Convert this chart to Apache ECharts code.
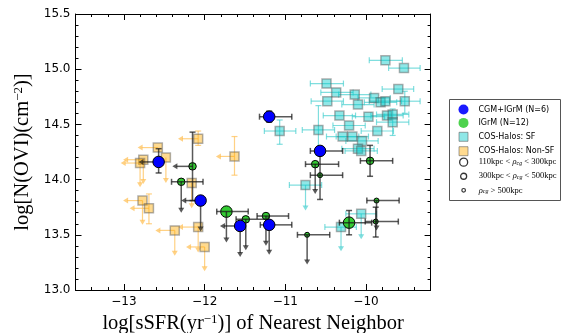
<!DOCTYPE html>
<html><head><meta charset="utf-8">
<script src="https://cdn.jsdelivr.net/npm/echarts@6/dist/echarts.min.js"></script>
<style>html,body{margin:0;padding:0;background:#fff}#c{width:564px;height:333px}</style>
</head><body><div id="c"></div>
<script>
// Row columns: x, y, xLow, xHigh, yLow, yHigh, xUpperLimit (1 = arrow to xLow), yUpperLimit (1 = arrow to yLow)
const cgmIgrm = [
  [-11.20, 14.57, -11.32, -10.92, 14.52, 14.62, 0, 0],
  [-12.57, 14.16, -12.82, null, 14.06, 14.28, 1, 0],
  [-12.05, 13.81, -12.29, null, 13.53, null, 1, 1],
  [-11.56, 13.58, -11.81, null, 13.30, null, 1, 1],
  [-11.20, 13.59, -11.31, -10.92, 13.32, null, 0, 1],
  [-10.57, 14.26, -10.69, -10.29, 14.22, 14.30, 0, 0]
];
const cgmIgrmRho = [1, 1, 1, 1, 1, 1];

const igrm = [
  [-12.15, 14.12, -12.40, null, 13.81, 14.43, 1, 0],
  [-12.29, 13.98, -12.41, -12.02, 13.70, null, 0, 1],
  [-11.73, 13.71, -11.85, -11.46, 13.43, null, 0, 1],
  [-11.49, 13.64, -11.61, -11.21, 13.36, null, 0, 1],
  [-11.24, 13.67, -11.35, -10.96, 13.40, null, 0, 1],
  [-10.63, 14.14, -10.75, -10.34, 13.87, null, 0, 1],
  [-10.57, 14.04, -10.69, -10.29, 13.82, 14.26, 0, 0],
  [-9.95, 14.17, -10.07, -9.67, 14.03, 14.31, 0, 0],
  [-9.87, 13.81, -9.99, -9.59, 13.54, null, 0, 1],
  [-10.21, 13.61, -10.33, -9.93, 13.50, 13.72, 0, 0],
  [-9.88, 13.62, -10.01, -9.60, 13.48, 13.75, 0, 0],
  [-10.73, 13.50, -10.85, -10.45, 13.23, null, 0, 1]
];
const igrmRho = [2, 2, 1, 2, 2, 2, 3, 2, 3, 1, 3, 3];

const cosSF = [
  [-9.76, 15.08, -9.96, -9.55, null, null, 0, 0],
  [-9.53, 15.01, -9.72, -9.33, null, null, 0, 0],
  [-10.49, 14.87, -10.69, -10.28, null, null, 0, 0],
  [-9.60, 14.82, -9.80, -9.41, null, null, 0, 0],
  [-10.37, 14.79, -10.56, -10.16, null, null, 0, 0],
  [-10.14, 14.77, -10.34, -9.94, null, null, 0, 0],
  [-10.48, 14.71, -10.68, -10.28, null, null, 0, 0],
  [-10.10, 14.68, -10.30, -9.90, null, null, 0, 0],
  [-9.90, 14.74, -10.10, -9.70, null, null, 0, 0],
  [-9.82, 14.70, -10.02, -9.62, null, null, 0, 0],
  [-9.76, 14.71, -9.96, -9.56, null, null, 0, 0],
  [-9.52, 14.71, -9.71, -9.33, 14.60, 14.80, 0, 0],
  [-10.33, 14.58, -10.53, -10.13, null, null, 0, 0],
  [-9.97, 14.57, -10.17, -9.77, null, null, 0, 0],
  [-9.74, 14.58, -9.94, -9.54, null, null, 0, 0],
  [-9.67, 14.59, -9.87, -9.47, null, null, 0, 0],
  [-9.67, 14.52, -9.87, -9.47, 14.40, 14.64, 0, 0],
  [-10.21, 14.49, -10.41, -10.01, null, null, 0, 0],
  [-9.86, 14.44, -10.06, -9.66, null, null, 0, 0],
  [-10.59, 14.45, -10.79, -10.39, 14.22, 14.67, 0, 0],
  [-11.07, 14.44, -11.26, -10.87, 14.32, 14.54, 0, 0],
  [-10.29, 14.39, -10.49, -10.09, null, null, 0, 0],
  [-10.17, 14.39, -10.37, -9.97, null, null, 0, 0],
  [-10.05, 14.35, -10.25, -9.85, null, null, 0, 0],
  [-10.10, 14.28, -10.30, -9.90, null, null, 0, 0],
  [-10.06, 14.26, -10.26, -9.86, null, null, 0, 0],
  [-10.75, 13.95, -10.95, -10.55, 13.72, null, 0, 1],
  [-10.06, 13.69, -10.25, -9.87, 13.46, null, 0, 1],
  [-10.31, 13.57, -10.51, -10.12, 13.35, null, 0, 1]
];

const cosNonSF = [
  [-12.08, 14.37, -12.33, null, 14.31, 14.44, 1, 0],
  [-11.63, 14.21, -11.86, null, 14.04, 14.39, 1, 0],
  [-12.58, 14.29, -12.83, null, null, null, 1, 0],
  [-12.48, 14.20, null, null, 13.97, null, 0, 1],
  [-12.76, 14.18, -13.01, null, 13.96, null, 1, 1],
  [-12.80, 14.15, -13.04, null, 13.93, null, 1, 1],
  [-12.16, 13.97, null, null, 13.74, null, 0, 1],
  [-12.77, 13.81, -13.01, null, 13.59, null, 1, 1],
  [-12.69, 13.74, -12.93, null, 13.60, 13.87, 1, 0],
  [-12.37, 13.54, -12.61, null, 13.31, null, 1, 1],
  [-12.08, 13.57, -12.33, null, 13.34, null, 1, 1],
  [-12.00, 13.39, -12.23, null, 13.17, null, 1, 1]
];

const seriesNames = ['CGM+IGrM (N=6)', 'IGrM (N=12)', 'COS-Halos: SF', 'COS-Halos: Non-SF'];
const rhoNames = ['rho1', 'rho2', 'rho3'];
const rhoRanges = [['110kpc < ', ' < 300kpc'], ['300kpc < ', ' < 500kpc'], ['', ' > 500kpc']];
const xRange = [-13.6, -9.2];
const yRange = [13.0, 15.5];
const yTickStep = 0.5;
const xMinorStep = 0.2;

const rhoSize = {1: 11.5, 2: 7.5, 3: 5};

function errSeries(name, rows, color, lw, z) {
  return {
    type: 'custom', name: name, z: z, silent: true, animation: false,
    xAxisIndex: 0, yAxisIndex: 0,
    dimensions: ['x', 'y', 'xl', 'xh', 'yl', 'yh', 'xa', 'ya'],
    encode: {x: 0, y: 1},
    data: rows,
    renderItem: function (params, api) {
      const x = api.value(0), y = api.value(1);
      const xl = api.value(2), xh = api.value(3), yl = api.value(4), yh = api.value(5);
      const xa = api.value(6), ya = api.value(7);
      const c = api.coord([x, y]);
      const ch = [];
      const st = {stroke: color, lineWidth: lw};
      const cap = 3, ah = 5, aw = 3;
      const L = (x1, y1, x2, y2) => ch.push({type: 'line', shape: {x1, y1, x2, y2}, style: st});
      if (isFinite(xl) && xl !== null) {
        const a = api.coord([xl, y]);
        if (xa === 1) {
          L(c[0], c[1], a[0] + ah - 1, c[1]);
          ch.push({type: 'polygon', shape: {points: [[a[0], c[1]], [a[0] + ah, c[1] - aw], [a[0] + ah, c[1] + aw]]}, style: {fill: color}});
        } else {
          const b = api.coord([xh, y]);
          L(a[0], c[1], b[0], c[1]);
          L(a[0], c[1] - cap, a[0], c[1] + cap);
          L(b[0], c[1] - cap, b[0], c[1] + cap);
        }
      }
      if (isFinite(yl) && yl !== null) {
        const a = api.coord([x, yl]);
        if (ya === 1) {
          L(c[0], c[1], c[0], a[1] - ah + 1);
          ch.push({type: 'polygon', shape: {points: [[c[0], a[1]], [c[0] - aw, a[1] - ah], [c[0] + aw, a[1] - ah]]}, style: {fill: color}});
        } else {
          const b = api.coord([x, yh]);
          L(c[0], a[1], c[0], b[1]);
          L(c[0] - cap, a[1], c[0] + cap, a[1]);
          L(c[0] - cap, b[1], c[0] + cap, b[1]);
        }
      }
      return {type: 'group', children: ch};
    }
  };
}

function markers(name, rows, opts) {
  return Object.assign({
    type: 'scatter', name: name, silent: true, animation: false,
    xAxisIndex: 0, yAxisIndex: 0,
    data: rows.map(r => [r[0], r[1]])
  }, opts);
}

const isInt = v => Math.abs(v - Math.round(v)) < 1e-9;
const serif = 'Liberation Serif';
const sans = 'DejaVu Sans';

const darkBar = 'rgba(25,25,25,0.72)';
const cyanBar = 'rgba(60,205,205,0.65)';
const orangeBar = 'rgba(255,190,80,0.7)';

const tickAxisCommon = {
  type: 'value', axisLine: {show: true, onZero: false, lineStyle: {color: '#000', width: 1}},
  splitLine: {show: false}
};

const legendCommon = {
  orient: 'vertical', left: 449,
  itemWidth: 20, itemHeight: 11, itemGap: 2.4,
  selectedMode: false, backgroundColor: 'transparent', borderWidth: 0
};

const option = {
  animation: false,
  backgroundColor: '#fff',
  grid: {left: 75.5, right: 133.4, top: 14, bottom: 43, containLabel: false, outerBoundsMode: 'none'},
  graphic: [{
    type: 'rect', left: 449, top: 99, z: 0,
    shape: {width: 111, height: 101},
    style: {fill: '#fff', stroke: '#555', lineWidth: 1}
  }],
  xAxis: [
    Object.assign({}, tickAxisCommon, {
      position: 'bottom', min: xRange[0], max: xRange[1],
      axisTick: {inside: true, length: 6, lineStyle: {color: '#000'}},
      axisLabel: {show: true, showMinLabel: false, showMaxLabel: false, margin: 6,
        fontFamily: sans, fontSize: 12, color: '#000',
        formatter: v => isInt(v) ? (v < 0 ? '\u2212' + Math.abs(Math.round(v)) : String(Math.round(v))) : ''},
      name: '{a|log[sSFR(yr}{p|\u22121}{a|)] of Nearest Neighbor}',
      nameLocation: 'middle', nameGap: 19,
      nameTextStyle: {rich: {
        a: {fontFamily: serif, fontSize: 20.5, color: '#000'},
        p: {fontFamily: serif, fontSize: 13, color: '#000', verticalAlign: 'top'}
      }}
    }),
    Object.assign({}, tickAxisCommon, {
      position: 'bottom', min: xRange[0], max: xRange[1], interval: xMinorStep,
      axisLine: {show: false},
      axisTick: {inside: true, length: 3, lineStyle: {color: '#000'}},
      axisLabel: {show: false}
    }),
    Object.assign({}, tickAxisCommon, {
      position: 'top', min: xRange[0], max: xRange[1],
      axisTick: {inside: true, length: 6, lineStyle: {color: '#000'}},
      axisLabel: {show: false}
    }),
    Object.assign({}, tickAxisCommon, {
      position: 'top', min: xRange[0], max: xRange[1], interval: xMinorStep,
      axisLine: {show: false},
      axisTick: {inside: true, length: 3, lineStyle: {color: '#000'}},
      axisLabel: {show: false}
    })
  ],
  yAxis: [
    Object.assign({}, tickAxisCommon, {
      position: 'left', min: yRange[0], max: yRange[1], interval: yTickStep,
      axisTick: {inside: true, length: 6, lineStyle: {color: '#000'}},
      minorTick: {show: true, splitNumber: 5, length: 3, lineStyle: {color: '#000'}},
      axisLabel: {show: true, margin: 5, fontFamily: sans, fontSize: 12, color: '#000',
        formatter: v => v.toFixed(1)},
      name: '{a|log[N(OVI)(cm}{p|\u22122}{a|)]}',
      nameLocation: 'middle', nameGap: 40, nameRotate: 90,
      nameTextStyle: {rich: {
        a: {fontFamily: serif, fontSize: 20.5, color: '#000'},
        p: {fontFamily: serif, fontSize: 13, color: '#000', verticalAlign: 'top'}
      }}
    }),
    Object.assign({}, tickAxisCommon, {
      position: 'right', min: yRange[0], max: yRange[1], interval: yTickStep,
      axisTick: {inside: true, length: 6, lineStyle: {color: '#000'}},
      minorTick: {show: true, splitNumber: 5, length: 3, lineStyle: {color: '#000'}},
      axisLabel: {show: false}
    })
  ],
  legend: [
    Object.assign({}, legendCommon, {
      top: 99, padding: [5, 2, 0, 4],
      textStyle: {fontFamily: sans, fontSize: 8, color: '#000'},
      data: [
        {name: seriesNames[0], icon: 'path://M0,0 M20,11 M15,5.5 A5,5 0 1 1 5,5.5 A5,5 0 1 1 15,5.5 Z', itemStyle: {color: '#1a1aff', borderWidth: 0}},
        {name: seriesNames[1], icon: 'path://M0,0 M20,11 M15,5.5 A5,5 0 1 1 5,5.5 A5,5 0 1 1 15,5.5 Z', itemStyle: {color: '#4dd24d', borderWidth: 0}},
        {name: seriesNames[2], icon: 'path://M0,0 M20,11 M5.5,1 L14.5,1 L14.5,10 L5.5,10 Z', itemStyle: {color: 'rgba(0,200,200,0.55)', borderColor: 'rgba(90,90,90,0.7)', borderWidth: 1}},
        {name: seriesNames[3], icon: 'path://M0,0 M20,11 M5.5,1 L14.5,1 L14.5,10 L5.5,10 Z', itemStyle: {color: 'rgba(255,170,0,0.55)', borderColor: 'rgba(90,90,90,0.7)', borderWidth: 1}}
      ]
    }),
    Object.assign({}, legendCommon, {
      top: 156, padding: [0, 2, 0, 4], itemGap: 1.8,
      textStyle: {fontFamily: serif, fontSize: 8.5, color: '#000',
        rich: {
          m: {fontFamily: serif, fontSize: 8.5, color: '#000'},
          r: {fontFamily: serif, fontSize: 8.5, fontStyle: 'italic', color: '#000'},
          s: {fontFamily: serif, fontSize: 6, fontStyle: 'italic', color: '#000', verticalAlign: 'bottom'}
        }},
      formatter: function (name) {
        const i = rhoNames.indexOf(name);
        const r = rhoRanges[i];
        return (r[0] ? '{m|' + r[0] + '}' : '') + '{r|\u03c1}{s|cg}{m|' + r[1] + '}';
      },
      data: [
        {name: rhoNames[0], icon: 'path://M0,0 M20,11 M14,5.5 A4,4 0 1 1 6,5.5 A4,4 0 1 1 14,5.5 Z', itemStyle: {color: 'rgba(0,0,0,0)', borderColor: '#000', borderWidth: 1.3}},
        {name: rhoNames[1], icon: 'path://M0,0 M20,11 M13,5.5 A3,3 0 1 1 7,5.5 A3,3 0 1 1 13,5.5 Z', itemStyle: {color: 'rgba(0,0,0,0)', borderColor: '#000', borderWidth: 1.3}},
        {name: rhoNames[2], icon: 'path://M0,0 M20,11 M11.8,5.5 A1.8,1.8 0 1 1 8.2,5.5 A1.8,1.8 0 1 1 11.8,5.5 Z', itemStyle: {color: 'rgba(0,0,0,0)', borderColor: '#000', borderWidth: 1.2}}
      ]
    })
  ],
  series: [
    errSeries('errSF', cosSF, cyanBar, 1.2, 2),
    errSeries('errNonSF', cosNonSF, orangeBar, 1.2, 2),
    markers(seriesNames[2], cosSF, {z: 3, symbol: 'rect', symbolSize: 9,
      itemStyle: {color: 'rgba(0,200,200,0.55)', borderColor: 'rgba(90,90,90,0.6)', borderWidth: 1.5}}),
    markers(seriesNames[3], cosNonSF, {z: 3, symbol: 'rect', symbolSize: 9,
      itemStyle: {color: 'rgba(255,170,0,0.55)', borderColor: 'rgba(90,90,90,0.6)', borderWidth: 1.5}}),
    markers(seriesNames[1], igrm, {z: 4, symbol: 'circle',
      symbolSize: (v, p) => rhoSize[igrmRho[p.dataIndex]],
      itemStyle: {color: '#33cc33', borderColor: '#000', borderWidth: 1, opacity: 1}}),
    errSeries('errIGrM', igrm, darkBar, 1.5, 5),
    errSeries('errCGM', cgmIgrm, darkBar, 1.5, 6),
    markers(seriesNames[0], cgmIgrm, {z: 7, symbol: 'circle',
      symbolSize: (v, p) => rhoSize[cgmIgrmRho[p.dataIndex]],
      itemStyle: {color: '#0000ff', borderColor: '#000', borderWidth: 1, opacity: 1}}),
    {type: 'scatter', name: rhoNames[0], data: [], itemStyle: {color: 'rgba(0,0,0,0)', borderColor: '#000'}},
    {type: 'scatter', name: rhoNames[1], data: [], itemStyle: {color: 'rgba(0,0,0,0)', borderColor: '#000'}},
    {type: 'scatter', name: rhoNames[2], data: [], itemStyle: {color: 'rgba(0,0,0,0)', borderColor: '#000'}}
  ]
};

const chart = echarts.init(document.getElementById('c'), null, {renderer: 'canvas', width: 564, height: 333});
chart.setOption(option);
</script>
</body></html>
